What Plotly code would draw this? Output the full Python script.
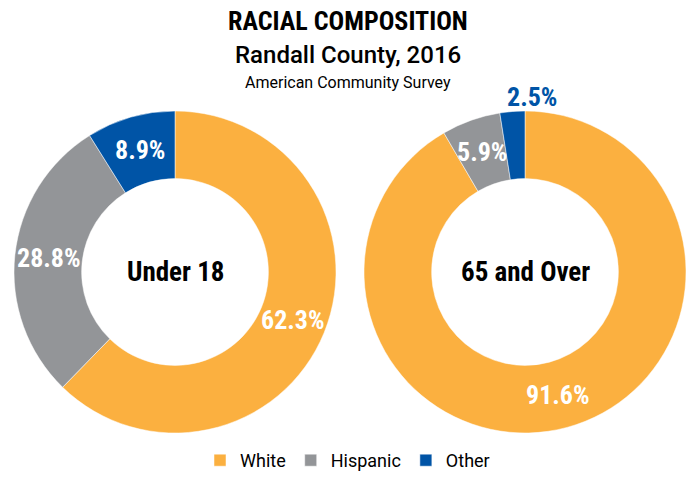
import math
import plotly.graph_objects as go

categories = ["White", "Hispanic", "Other"]
under18 = [62.3, 28.8, 8.9]
over65 = [91.6, 5.9, 2.5]
group_names = ["Under 18", "65 and Over"]
label_positions_u18 = ["inside", "inside", "inside"]
label_positions_o65 = ["inside", "inside", "outside"]
colors = ["#FBB040", "#939598", "#0054A6"]

W, H = 695, 479
FONT = "Roboto Condensed, Liberation Sans Narrow, Roboto, Arial"
R_OUT = 161
HOLE = 0.58
R_MID = R_OUT * (1 + HOLE) / 2
R_OUTSIDE = R_OUT + 15

def dom_x(a, b):
    return [a / W, b / W]

def dom_y(top, bottom):
    return [1 - bottom / H, 1 - top / H]

centers = [(175, 272), (525, 272)]
datasets = [under18, over65]
positions = [label_positions_u18, label_positions_o65]

fig = go.Figure()
for i, (vals, (cx, cy)) in enumerate(zip(datasets, centers)):
    fig.add_trace(go.Pie(
        labels=categories, values=vals, hole=HOLE, sort=False,
        direction="clockwise", rotation=0,
        marker=dict(colors=colors, line=dict(color="white", width=0.5)),
        textinfo="none",
        domain=dict(x=dom_x(cx - R_OUT, cx + R_OUT), y=dom_y(cy - R_OUT, cy + R_OUT)),
        hoverinfo="label+value", showlegend=(i == 0),
    ))

annotations = [
    dict(text="<b>RACIAL COMPOSITION</b>", x=0.5, y=1 - 21 / H, xref="paper", yref="paper",
         xanchor="center", yanchor="middle",
         showarrow=False, font=dict(family=FONT, size=26, color="black")),
    dict(text="Randall County, 2016", x=0.5, y=1 - 55 / H, xref="paper", yref="paper",
         xanchor="center", yanchor="middle",
         showarrow=False, font=dict(family="Roboto", size=24, color="black", weight=500)),
    dict(text="American Community Survey", x=0.5, y=1 - 83 / H, xref="paper", yref="paper",
         xanchor="center", yanchor="middle",
         showarrow=False, font=dict(family="Roboto", size=16, color="black")),
]

for name, (cx, cy) in zip(group_names, centers):
    annotations.append(dict(text="<b>" + name + "</b>", x=cx / W, y=1 - cy / H,
                            xref="paper", yref="paper", xanchor="center", yanchor="middle",
                            showarrow=False, font=dict(family=FONT, size=27, color="black")))

# value labels placed at each slice's mid-angle (derived from the data)
for vals, (cx, cy), pos in zip(datasets, centers, positions):
    total = sum(vals)
    start = 0.0
    for v, p, col in zip(vals, pos, colors):
        mid = (start + v / 2) / total * 2 * math.pi
        start += v
        if p == "inside":
            px = cx + R_MID * math.sin(mid)
            py = cy - R_MID * math.cos(mid)
            annotations.append(dict(text="<b>%.1f%%</b>" % v, x=px / W, y=1 - py / H,
                                    xref="paper", yref="paper", xanchor="center", yanchor="middle",
                                    showarrow=False,
                                    font=dict(family=FONT, size=26, color="white")))
        else:
            px = cx + R_OUTSIDE * math.sin(mid)
            py = cy - R_OUTSIDE * math.cos(mid)
            annotations.append(dict(text="<b>%.1f%%</b>" % v, x=px / W, y=1 - py / H,
                                    xref="paper", yref="paper", xanchor="left", yanchor="middle",
                                    xshift=-6, showarrow=False,
                                    font=dict(family=FONT, size=26, color=col)))

fig.update_layout(
    width=W, height=H,
    margin=dict(l=0, r=0, t=0, b=0),
    paper_bgcolor="white", plot_bgcolor="white",
    annotations=annotations,
    legend=dict(orientation="h", x=0.5, xanchor="center", y=0, yanchor="bottom",
                font=dict(family="Roboto", size=18, color="black"), traceorder="normal",
                itemwidth=30),
)

fig.write_html("out.html", config={"displayModeBar": False},
               post_script="document.body.style.margin='0';")
